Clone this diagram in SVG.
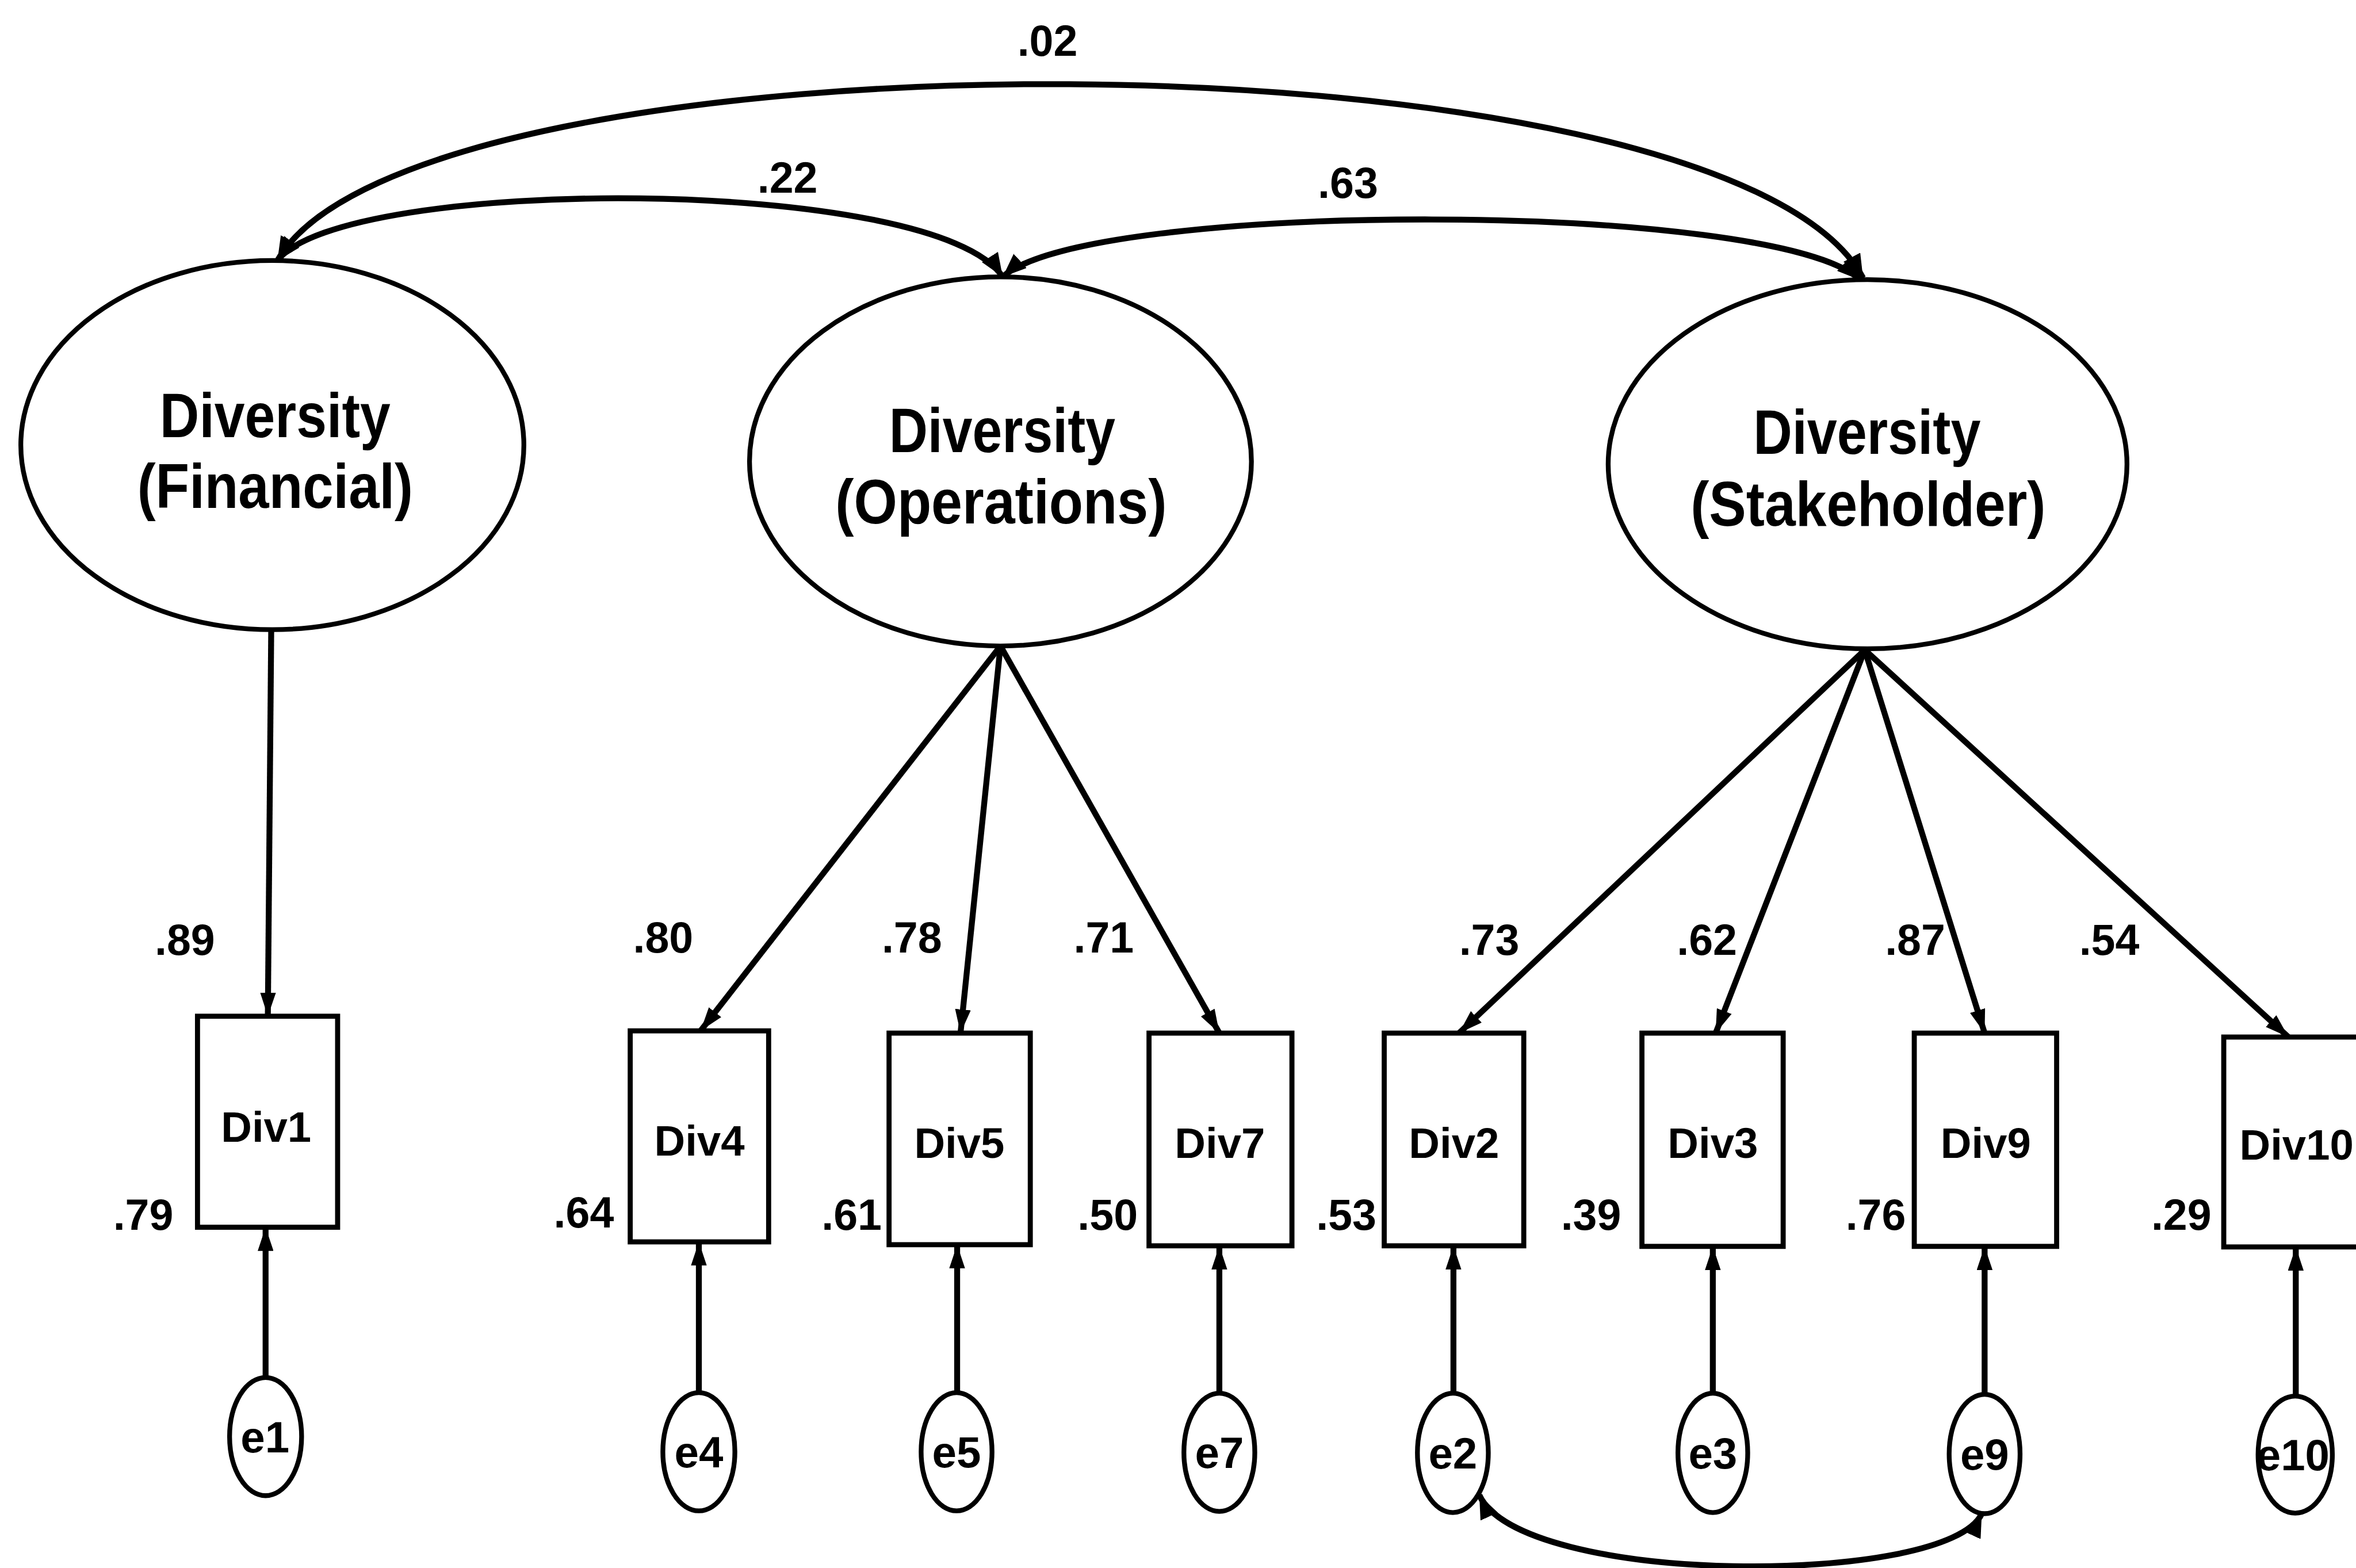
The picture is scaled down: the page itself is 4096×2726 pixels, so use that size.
<svg xmlns="http://www.w3.org/2000/svg" width="4096" height="2726" viewBox="0 0 4096 2726">
  <defs>
    <style>
      .shape { fill: #fff; stroke: #000; stroke-width: 8.5; }
      .box { fill: #fff; stroke: #000; stroke-width: 9; }
      .link { fill: none; stroke: #000; stroke-width: 10.5; }
      .arc { fill: none; stroke: #000; stroke-width: 10.5; }
      .lat { font-family: "Liberation Sans", Arial, sans-serif; font-weight: bold; font-size: 112px; text-anchor: middle; fill: #000; }
      .obs { font-family: "Liberation Sans", Arial, sans-serif; font-weight: bold; font-size: 76px; text-anchor: middle; fill: #000; }
      .err { font-family: "Liberation Sans", Arial, sans-serif; font-weight: bold; font-size: 78px; text-anchor: middle; fill: #000; }
      .coef { font-family: "Liberation Sans", Arial, sans-serif; font-weight: bold; font-size: 77px; fill: #000; }
    </style>
    <marker id="tip" viewBox="0 0 42 28" refX="42" refY="14" markerWidth="42" markerHeight="28" orient="auto" markerUnits="userSpaceOnUse">
      <path d="M0,0 L42,14 L0,28 Z" fill="#000"/>
    </marker>
    <marker id="tipArc" viewBox="0 0 42 34" refX="42" refY="17" markerWidth="42" markerHeight="34" orient="auto-start-reverse" markerUnits="userSpaceOnUse">
      <path d="M0,0 L42,17 L0,34 Z" fill="#000"/>
    </marker>
  </defs>

  <rect x="0" y="0" width="4096" height="2726" fill="#fff"/>

  <g transform="scale(0.978261)">
    <!-- connectors: covariances, loadings and error paths -->
    <g id="connectors">
      <path class="arc" d="M493,463 C735,40 3065,40 3311,494" marker-start="url(#tipArc)" marker-end="url(#tipArc)"/>
      <path class="arc" d="M493,463 C610,311 1665,311 1782,492" marker-start="url(#tipArc)" marker-end="url(#tipArc)"/>
      <path class="arc" d="M1782,492 C1932,355 3157,355 3307,498" marker-start="url(#tipArc)" marker-end="url(#tipArc)"/>
      <path class="arc" d="M2629,2657 C2704,2820 3462,2820 3522,2690" marker-start="url(#tipArc)" marker-end="url(#tipArc)"/>

      <path class="link" d="M482,1119 L476,1806" marker-end="url(#tip)"/>
      <path class="link" d="M1778,1148 L1245,1832" marker-end="url(#tip)"/>
      <path class="link" d="M1778,1148 L1707,1836" marker-end="url(#tip)"/>
      <path class="link" d="M1778,1148 L2167,1836" marker-end="url(#tip)"/>
      <path class="link" d="M3314,1155 L2593,1836" marker-end="url(#tip)"/>
      <path class="link" d="M3314,1155 L3049,1836" marker-end="url(#tip)"/>
      <path class="link" d="M3314,1155 L3527,1836" marker-end="url(#tip)"/>
      <path class="link" d="M3314,1155 L4067,1843" marker-end="url(#tip)"/>

      <path class="link" d="M472,2448 L472,2181" marker-end="url(#tip)"/>
      <path class="link" d="M1242,2475 L1242,2207" marker-end="url(#tip)"/>
      <path class="link" d="M1701,2475 L1701,2212" marker-end="url(#tip)"/>
      <path class="link" d="M2167,2476 L2167,2214" marker-end="url(#tip)"/>
      <path class="link" d="M2583,2477 L2583,2214" marker-end="url(#tip)"/>
      <path class="link" d="M3044,2476 L3044,2215" marker-end="url(#tip)"/>
      <path class="link" d="M3527,2478 L3527,2215" marker-end="url(#tip)"/>
      <path class="link" d="M4080,2481 L4080,2216" marker-end="url(#tip)"/>
    </g>

    <!-- latent factors -->
    <g id="financial">
      <ellipse class="shape" cx="484" cy="791" rx="447" ry="328"/>
      <text class="lat" x="489" y="777" textLength="410" lengthAdjust="spacingAndGlyphs">Diversity</text>
      <text class="lat" x="489" y="903" textLength="490" lengthAdjust="spacingAndGlyphs">(Financial)</text>
    </g>
    <g id="operations">
      <ellipse class="shape" cx="1778" cy="820" rx="446" ry="328"/>
      <text class="lat" x="1781" y="803" textLength="402" lengthAdjust="spacingAndGlyphs">Diversity</text>
      <text class="lat" x="1779" y="930" textLength="589" lengthAdjust="spacingAndGlyphs">(Operations)</text>
    </g>
    <g id="stakeholder">
      <ellipse class="shape" cx="3319" cy="825" rx="461" ry="328"/>
      <text class="lat" x="3318" y="807" textLength="404" lengthAdjust="spacingAndGlyphs">Diversity</text>
      <text class="lat" x="3320" y="934" textLength="631" lengthAdjust="spacingAndGlyphs">(Stakeholder)</text>
    </g>

    <!-- observed indicators -->
    <g id="div1">
      <rect class="box" x="351" y="1806" width="249" height="375"/>
      <text class="obs" x="473" y="2029">Div1</text>
    </g>
    <g id="div4">
      <rect class="box" x="1120" y="1832" width="246" height="375"/>
      <text class="obs" x="1243" y="2054">Div4</text>
    </g>
    <g id="div5">
      <rect class="box" x="1580" y="1836" width="251" height="376"/>
      <text class="obs" x="1705" y="2058">Div5</text>
    </g>
    <g id="div7">
      <rect class="box" x="2042" y="1836" width="254" height="378"/>
      <text class="obs" x="2168" y="2058">Div7</text>
    </g>
    <g id="div2">
      <rect class="box" x="2460" y="1836" width="248" height="378"/>
      <text class="obs" x="2584" y="2058">Div2</text>
    </g>
    <g id="div3">
      <rect class="box" x="2918" y="1836" width="251" height="379"/>
      <text class="obs" x="3044" y="2058">Div3</text>
    </g>
    <g id="div9">
      <rect class="box" x="3402" y="1836" width="253" height="379"/>
      <text class="obs" x="3529" y="2058">Div9</text>
    </g>
    <g id="div10">
      <rect class="box" x="3952" y="1843" width="260" height="373"/>
      <text class="obs" x="3980" y="2061" style="text-anchor:start">Div10</text>
    </g>

    <!-- error terms -->
    <g id="e1">
      <ellipse class="shape" cx="472" cy="2553" rx="64" ry="105"/>
      <text class="err" x="471" y="2581">e1</text>
    </g>
    <g id="e4">
      <ellipse class="shape" cx="1242" cy="2580" rx="64" ry="105"/>
      <text class="err" x="1242" y="2608">e4</text>
    </g>
    <g id="e5">
      <ellipse class="shape" cx="1700" cy="2580" rx="63" ry="105"/>
      <text class="err" x="1700" y="2608">e5</text>
    </g>
    <g id="e7">
      <ellipse class="shape" cx="2167" cy="2581" rx="63" ry="105"/>
      <text class="err" x="2167" y="2609">e7</text>
    </g>
    <g id="e2">
      <ellipse class="shape" cx="2582" cy="2582" rx="63" ry="106"/>
      <text class="err" x="2582" y="2610">e2</text>
    </g>
    <g id="e3">
      <ellipse class="shape" cx="3044" cy="2582" rx="62" ry="106"/>
      <text class="err" x="3044" y="2610">e3</text>
    </g>
    <g id="e9">
      <ellipse class="shape" cx="3527" cy="2584" rx="63" ry="106"/>
      <text class="err" x="3527" y="2612">e9</text>
    </g>
    <g id="e10">
      <ellipse class="shape" cx="4079" cy="2585" rx="66" ry="104"/>
      <text class="err" x="4075" y="2613">e10</text>
    </g>

    <!-- path coefficients -->
    <g id="coefficients">
      <text class="coef" x="1808" y="99">.02</text>
      <text class="coef" x="1346" y="342">.22</text>
      <text class="coef" x="2342" y="352">.63</text>
      <text class="coef" x="275" y="1697">.89</text>
      <text class="coef" x="201" y="2185">.79</text>
      <text class="coef" x="1125" y="1693">.80</text>
      <text class="coef" x="984" y="2181">.64</text>
      <text class="coef" x="1567" y="1693">.78</text>
      <text class="coef" x="1460" y="2185">.61</text>
      <text class="coef" x="1908" y="1693">.71</text>
      <text class="coef" x="1915" y="2185">.50</text>
      <text class="coef" x="2593" y="1697">.73</text>
      <text class="coef" x="2339" y="2185">.53</text>
      <text class="coef" x="2980" y="1697">.62</text>
      <text class="coef" x="2774" y="2185">.39</text>
      <text class="coef" x="3350" y="1697">.87</text>
      <text class="coef" x="3280" y="2185">.76</text>
      <text class="coef" x="3695" y="1697">.54</text>
      <text class="coef" x="3823" y="2185">.29</text>
    </g>
  </g>
</svg>
